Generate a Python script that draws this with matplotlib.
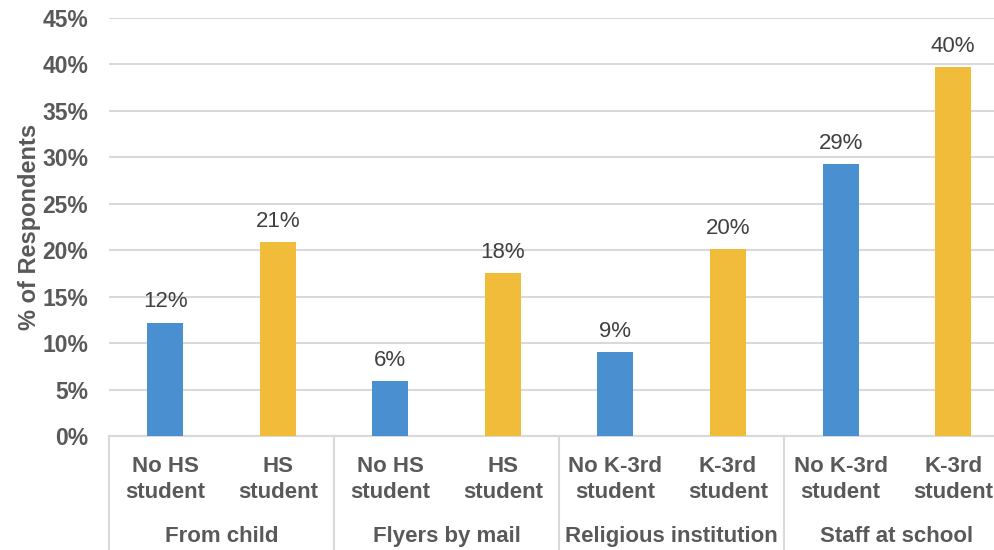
import matplotlib
matplotlib.use("Agg")
import matplotlib.pyplot as plt
import matplotlib.transforms as mtransforms
import numpy as np

plt.rcParams['font.family'] = ['Liberation Sans', 'DejaVu Sans']

groups = ['From child', 'Flyers by mail', 'Religious institution', 'Staff at school']
sub_labels = ['No HS\nstudent', 'HS\nstudent',
              'No HS\nstudent', 'HS\nstudent',
              'No K-3rd\nstudent', 'K-3rd\nstudent',
              'No K-3rd\nstudent', 'K-3rd\nstudent']
values = [12.2, 20.9, 5.9, 17.5, 9.0, 20.1, 29.3, 39.7]
value_labels = ['12%', '21%', '6%', '18%', '9%', '20%', '29%', '40%']
yticks = [0, 5, 10, 15, 20, 25, 30, 35, 40, 45]

blue = '#4A90D0'
gold = '#F0BC3A'
grey_text = '#595959'
grid_col = '#D9D9D9'

fig = plt.figure(figsize=(9.95, 5.5), dpi=100)
ax = fig.add_axes([0.1095, 0.2073, 0.905, 0.76])

x = np.arange(len(values))
colors = [blue if i % 2 == 0 else gold for i in range(len(values))]
ax.bar(x, values, width=0.32, color=colors, zorder=3)

for xi, v, lab in zip(x, values, value_labels):
    ax.text(xi, v + 1.1, lab, ha='center', va='bottom', fontsize=16, color='#404040')

ax.set_xlim(-0.5, len(values) - 0.5)
ax.set_ylim(0, 45)
ax.set_yticks(yticks)
ax.set_yticklabels([f'{t}%' for t in yticks], fontsize=16.5, fontweight='bold', color=grey_text)
ax.tick_params(axis='y', length=0, pad=15)
ax.tick_params(axis='x', length=0, labelbottom=False)
ax.yaxis.grid(True, color=grid_col, linewidth=1.5, zorder=0)
for s in ['top', 'right', 'left']:
    ax.spines[s].set_visible(False)
ax.spines['bottom'].set_color(grid_col)
ax.spines['bottom'].set_linewidth(1.5)

ax.set_ylabel('% of Respondents', fontsize=17, fontweight='bold', color=grey_text, va='center')
ax.yaxis.set_label_coords(-0.088, 0.5)

# two-level category labels
trans = mtransforms.blended_transform_factory(ax.transData, ax.transAxes)
for xi, lab in zip(x, sub_labels):
    ax.text(xi, -0.105, lab, transform=trans, ha='center', va='center',
            fontsize=16, fontweight='bold', color=grey_text, linespacing=1.3)
for gi, g in enumerate(groups):
    ax.text(2 * gi + 0.5, -0.24, g, transform=trans, ha='center', va='center',
            fontsize=16, fontweight='bold', color=grey_text)
for b in np.arange(-0.5, len(values), 2):
    ax.plot([b, b], [0, -0.3], transform=trans, color=grid_col, linewidth=1.5, clip_on=False)

fig.savefig('out.png', dpi=100)
